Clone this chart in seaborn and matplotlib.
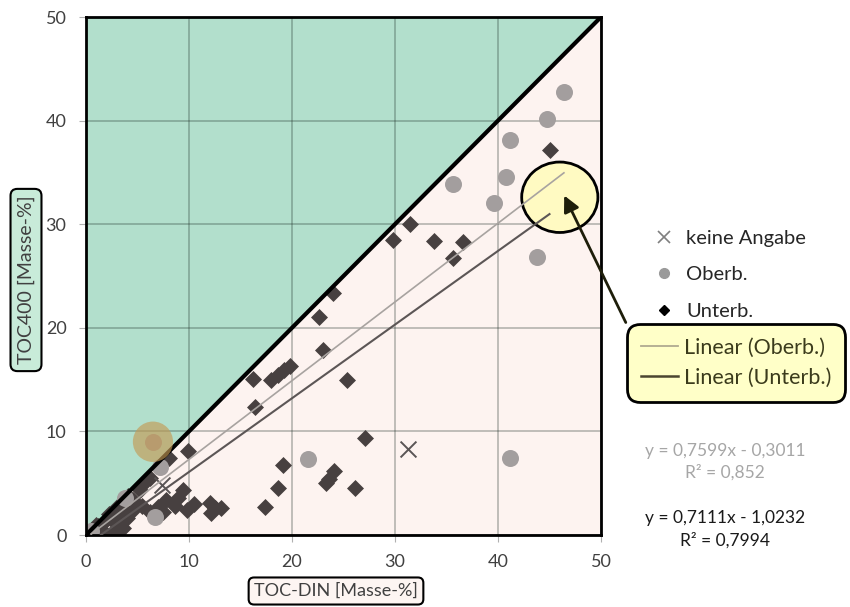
import matplotlib
matplotlib.use("Agg")
import matplotlib.pyplot as plt
import seaborn as sns
import pandas as pd
import numpy as np
from matplotlib.patches import Ellipse, FancyArrowPatch
from matplotlib.lines import Line2D

# TOC-DIN (x) gegen TOC400 (y), Masse-%
oberb_x = [46.4, 44.8, 41.2, 40.8, 39.6, 35.6, 43.8, 41.2, 21.6, 6.5, 7.2, 6.7, 3.8, 0.5]
oberb_y = [42.8, 40.2, 38.1, 34.6, 32.0, 33.9, 26.8, 7.4, 7.3, 9.0, 6.6, 1.7, 3.6, 0.4]

unterb_x = [45.0, 31.5, 29.8, 33.8, 36.6, 35.6, 24.0, 22.6, 23.0, 25.3, 16.2, 18.0,
            18.6, 19.2, 19.8, 16.4, 27.1, 19.1, 18.6, 17.4, 24.1, 23.6, 23.3, 26.1,
            9.9, 8.1, 12.0, 12.5, 13.1, 12.1, 10.5, 9.8, 9.4, 8.9, 8.6, 7.8, 7.5,
            7.0, 6.2, 5.4, 6.2, 5.6, 5.2, 4.6, 3.8, 4.5, 4.0, 3.3, 2.7, 2.0, 1.2,
            3.6, 3.0, 2.4, 1.7, 1.1, 0.6, 0.1, 2.2, 3.0, 4.1, 1.0]
unterb_y = [37.2, 30.0, 28.5, 28.4, 28.3, 26.7, 23.4, 21.0, 17.9, 15.0, 15.1, 15.0,
            15.4, 15.9, 16.3, 12.4, 9.4, 6.8, 4.5, 2.7, 6.2, 5.4, 5.0, 4.5,
            8.1, 7.4, 3.1, 2.6, 2.6, 2.1, 3.0, 2.4, 4.3, 3.6, 2.8, 3.4, 2.2,
            2.7, 2.2, 2.8, 5.5, 5.0, 4.3, 3.4, 2.9, 2.3, 1.6, 1.9, 1.3, 1.5, 0.9,
            0.7, 0.2, 0.1, 0.3, 0.1, 0.2, 0.1, 2.0, 2.7, 3.8, 1.0]

keine_x = [31.3, 7.4]
keine_y = [8.3, 4.8]

# lineare Trendlinien (Steigung, Achsenabschnitt)
trend_oberb = (0.7599, -0.3011)
trend_unterb = (0.7111, -1.0232)
eq_oberb = ["y = 0,7599x - 0,3011", "R² = 0,852"]
eq_unterb = ["y = 0,7111x - 1,0232", "R² = 0,7994"]

ticks = [0, 10, 20, 30, 40, 50]
highlight_idx = 9          # markierter Punkt (Oberb.)
callout_center = (46.0, 32.6)

plt.rcParams['font.family'] = ['Lato', 'DejaVu Sans']

fig = plt.figure(figsize=(8.5, 6.07), dpi=100)
ax = fig.add_axes([86 / 850, 1 - 535 / 607, 515 / 850, 518 / 607])
ax.set_facecolor('#fdf3f0')

ax.fill_between([0, 50], [0, 50], [50, 50], color='#b2dfcc', lw=0, zorder=0.2)
ax.plot([0, 50], [0, 50], color='black', lw=3, zorder=2.6, solid_capstyle='butt')

df = pd.concat([
    pd.DataFrame({'x': keine_x, 'y': keine_y, 'g': 'keine Angabe'}),
    pd.DataFrame({'x': oberb_x, 'y': oberb_y, 'g': 'Oberb.'}),
    pd.DataFrame({'x': unterb_x, 'y': unterb_y, 'g': 'Unterb.'}),
])

sns.scatterplot(data=df[df.g == 'Unterb.'], x='x', y='y', marker='D', s=75,
                color='#474040', linewidth=0, ax=ax, zorder=2, legend=False)
sns.scatterplot(data=df[df.g == 'Oberb.'], x='x', y='y', marker='o', s=150,
                color='#a39e9e', linewidth=0, ax=ax, zorder=2, legend=False)
sns.scatterplot(data=df[df.g == 'keine Angabe'], x='x', y='y', marker='x', s=130,
                color='#5a5555', linewidth=1.4, ax=ax, zorder=2, legend=False)

# Callout-Ellipse
ax.add_patch(Ellipse(callout_center, 7.4, 6.8, fc='#fffac2', ec='black', lw=2,
                     zorder=2.4, clip_on=False))

for (a, b), xs, col, lw in [(trend_oberb, oberb_x, '#a8a3a0', 1.2),
                           (trend_unterb, unterb_x, '#5c5656', 1.5)]:
    lx = np.array([min(xs), max(xs)])
    sns.lineplot(x=lx, y=a * lx + b, color=col, lw=lw, ax=ax, zorder=3)

hx, hy = oberb_x[highlight_idx], oberb_y[highlight_idx]
ax.add_patch(Ellipse((hx, hy), 3.9, 3.9, fc='#c49a55', alpha=0.65, lw=0, zorder=4))

ax.set_xlim(0, 50)
ax.set_ylim(0, 50)
ax.set_xticks(ticks)
ax.set_yticks(ticks)
ax.set_axisbelow(True)
ax.grid(True, color='#20302a', alpha=0.33, lw=1.2)
ax.tick_params(length=5, color='#b0b0b0', labelsize=13, labelcolor='#404040', pad=9)
for sp in ax.spines.values():
    sp.set_color('black')
    sp.set_linewidth(2)

ax.set_xlabel('TOC-DIN [Masse-%]', fontsize=13, color='#404040',
              bbox=dict(boxstyle='round,pad=0.3', fc='#fdf5f2', ec='black', lw=1.5))
ax.xaxis.set_label_coords((336 - 86) / 515, (535 - 591) / 518)
ax.xaxis.label.set_va('center')
ax.set_ylabel('TOC400 [Masse-%]', fontsize=14, color='#404040',
              bbox=dict(boxstyle='round,pad=0.35', fc='#c8ebd9', ec='black', lw=1.5))
ax.yaxis.set_label_coords((26 - 86) / 515, (535 - 280) / 518)
ax.yaxis.label.set_va('center')

h1 = [Line2D([], [], ls='', marker='x', color='#7f7f7f', ms=8, mew=1.2),
      Line2D([], [], ls='', marker='o', color='#9a9a9a', ms=7),
      Line2D([], [], ls='', marker='D', color='black', ms=5)]
leg1 = fig.legend(h1, ['keine Angabe', 'Oberb.', 'Unterb.'], loc='upper left',
                  bbox_to_anchor=(641 / 850, 1 - 222 / 607), frameon=False, borderaxespad=0,
                  fontsize=14.5, handlelength=1.5, handletextpad=0.35, labelspacing=0.95)
for t in leg1.get_texts():
    t.set_color('#262626')

h2 = [Line2D([], [], color='#b0aa90', lw=1.3), Line2D([], [], color='#4a4530', lw=1.8)]
leg2 = fig.legend(h2, ['Linear (Oberb.)', 'Linear (Unterb.)'], loc='upper left',
                  bbox_to_anchor=(627 / 850, 1 - 324 / 607), frameon=True, fancybox=True,
                  framealpha=1, facecolor='#ffffc8', edgecolor='black', fontsize=15.5,
                  borderaxespad=0, handlelength=1.7, handletextpad=0.3, labelspacing=0.45,
                  borderpad=0.65)
leg2.get_frame().set_linewidth(2)
leg2.get_frame().set_boxstyle('round,pad=0,rounding_size=0.6')
for t in leg2.get_texts():
    t.set_color('#3b3b1c')

fig.add_artist(FancyArrowPatch((627 / 850, 1 - 325 / 607), (563 / 850, 1 - 193 / 607),
                               transform=fig.transFigure, arrowstyle='-|>',
                               mutation_scale=24, color='#1e1e0a', lw=2))

fig.text(725 / 850, 1 - 451 / 607, eq_oberb[0], ha='center', va='center', fontsize=12.5, color='#a6a6a6')
fig.text(725 / 850, 1 - 472 / 607, eq_oberb[1], ha='center', va='center', fontsize=12.5, color='#a6a6a6')
fig.text(725 / 850, 1 - 518 / 607, eq_unterb[0], ha='center', va='center', fontsize=12.5, color='#1a1a1a')
fig.text(725 / 850, 1 - 540 / 607, eq_unterb[1], ha='center', va='center', fontsize=12.5, color='#1a1a1a')

fig.savefig('out.png', dpi=100)
